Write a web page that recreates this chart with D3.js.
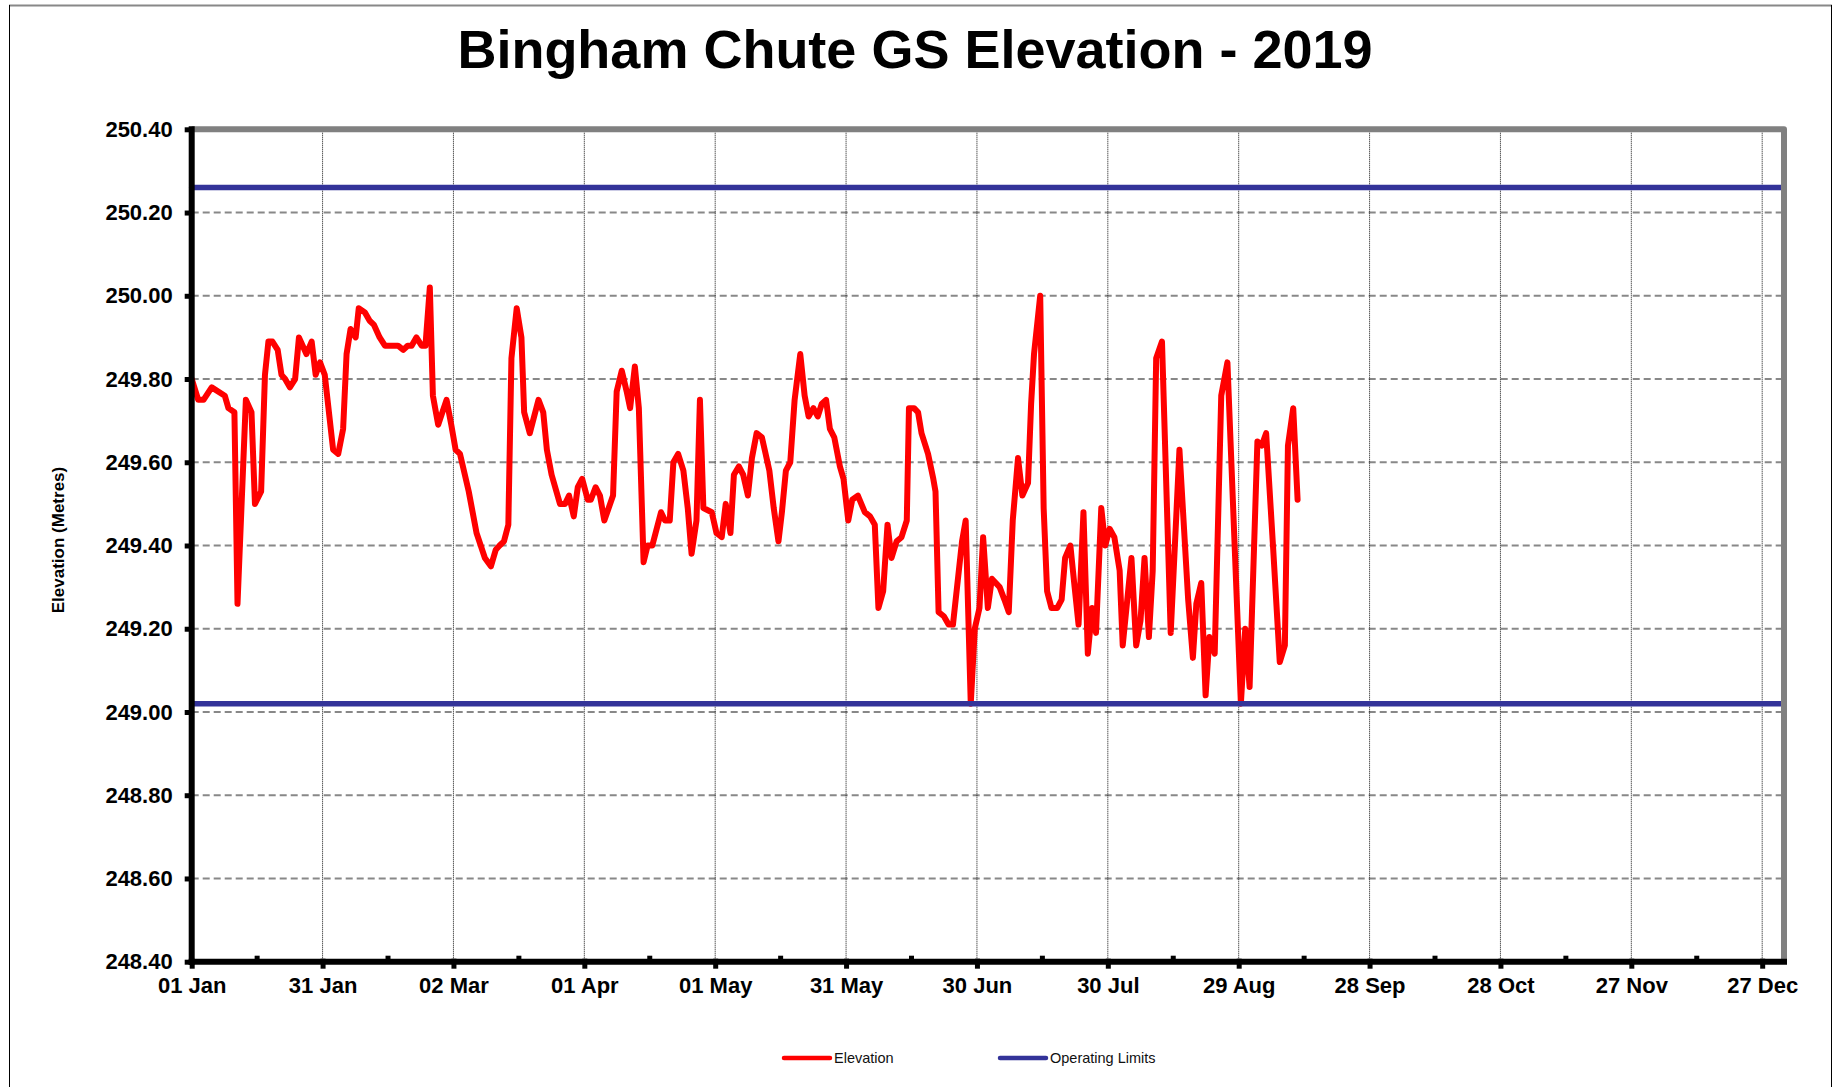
<!DOCTYPE html>
<html>
<head>
<meta charset="utf-8">
<script src="https://cdn.jsdelivr.net/npm/d3@7/dist/d3.min.js"></script>
<style>
  body { margin: 0; background: #fff; }
  svg { display: block; font-family: "Liberation Sans", Arial, sans-serif; }
</style>
</head>
<body>
<div id="chart"></div>
<script>
const title = "Bingham Chute GS Elevation - 2019";
const yLabel = "Elevation (Metres)";

// day of year (0 = 01 Jan 2019) of each reading
const dayOfYear = [
  0, 1.5, 2.7, 4.6, 7.6, 8.4, 9.8, 10.5, 12.4, 13.7, 14.5, 15.9, 16.8, 17.6, 18.5, 19.7,
  20.6, 21.4, 22.5, 23.7, 24.6, 26.3, 27.5, 28.4, 29.4, 30.5, 32.4, 33.6, 34.7, 35.5, 36.4,
  37.6, 38.3, 39.7, 40.8, 41.8, 43.1, 44.3, 47.3, 48.5, 49.5, 50.4, 51.5, 52.7, 53.6, 54.6,
  55.3, 56.5, 58.4, 59.5, 60.5, 61.5, 63.5, 65.3, 67.2, 68.6, 69.7, 70.6, 71.6, 72.6, 73.3,
  74.5, 75.6, 76.2, 77.5, 79.5, 80.6, 81.4, 82.5, 84.4, 85.6, 86.5, 87.6, 88.5, 89.5, 90.8,
  91.5, 92.6, 93.6, 94.6, 96.6, 97.4, 98.6, 99.7, 100.5, 101.6, 102.5, 103.6, 104.5, 105.6,
  107.6, 108.5, 109.6, 110.4, 111.5, 112.7, 113.7, 114.6, 115.7, 116.5, 117.3, 119.2, 120.3,
  121.5, 122.4, 123.5, 124.3, 125.4, 126.4, 127.5, 128.4, 129.5, 130.7, 132.4, 133.4, 134.5,
  135.3, 136.2, 137.2, 138.2, 139.5, 140.5, 141.4, 142.5, 143.5, 144.4, 145.4, 146.3, 147.3,
  148.6, 149.4, 150.5, 151.4, 152.7, 154.3, 155.5, 156.6, 157.4, 158.5, 159.5, 160.4, 161.6,
  162.7, 163.9, 164.4, 165.6, 166.5, 167.3, 168.8, 170.0, 170.5, 171.2, 172.4, 173.5, 174.5,
  176.6, 177.4, 178.6, 179.5, 180.6, 181.4, 182.5, 183.4, 185.2, 186.3, 187.3, 188.2, 189.4,
  190.4, 191.7, 192.4, 193.1, 194.5, 195.3, 196.1, 197.1, 198.4, 199.4, 200.2, 201.4, 202.3,
  203.3, 204.4, 205.4, 206.4, 207.3, 208.5, 209.4, 210.4, 211.5, 212.7, 213.4, 215.4, 216.5,
  217.5, 218.4, 219.4, 220.3, 221.1, 222.4, 224.4, 226.4, 228.4, 229.5, 230.3, 231.4, 232.4,
  233.3, 234.5, 236.0, 237.4, 240.5, 241.5, 242.5, 244.3, 245.3, 246.3, 247.9, 249.4, 250.6,
  251.3, 252.5, 253.5
];

const elevation = [
  249.80, 249.75, 249.75, 249.78, 249.76, 249.73, 249.72, 249.26, 249.75, 249.72, 249.50, 249.53, 249.81, 249.89, 249.89, 249.87,
  249.81, 249.80, 249.78, 249.80, 249.90, 249.86, 249.89, 249.81, 249.84, 249.81, 249.63, 249.62, 249.68, 249.86, 249.92,
  249.90, 249.97, 249.96, 249.94, 249.93, 249.90, 249.88, 249.88, 249.87, 249.88, 249.88, 249.90, 249.88, 249.88, 250.02,
  249.76, 249.69, 249.75, 249.69, 249.63, 249.62, 249.53, 249.43, 249.37, 249.35, 249.39, 249.40, 249.41, 249.45, 249.85,
  249.97, 249.90, 249.72, 249.67, 249.75, 249.72, 249.63, 249.57, 249.50, 249.50, 249.52, 249.47, 249.54, 249.56, 249.51,
  249.51, 249.54, 249.52, 249.46, 249.52, 249.77, 249.82, 249.77, 249.73, 249.83, 249.73, 249.36, 249.40, 249.40,
  249.48, 249.46, 249.46, 249.60, 249.62, 249.58, 249.49, 249.38, 249.46, 249.75, 249.49, 249.48, 249.43,
  249.42, 249.50, 249.43, 249.57, 249.59, 249.57, 249.52, 249.61, 249.67, 249.66, 249.58, 249.49, 249.41,
  249.48, 249.58, 249.60, 249.75, 249.86, 249.76, 249.71, 249.73, 249.71, 249.74, 249.75, 249.68, 249.66,
  249.59, 249.56, 249.46, 249.51, 249.52, 249.48, 249.47, 249.45, 249.25, 249.29, 249.45, 249.37, 249.41,
  249.42, 249.46, 249.73, 249.73, 249.72, 249.67, 249.62, 249.56, 249.53, 249.24, 249.23, 249.21, 249.21,
  249.41, 249.46, 249.02, 249.20, 249.25, 249.42, 249.25, 249.32, 249.30, 249.27, 249.24, 249.46, 249.61,
  249.52, 249.55, 249.74, 249.86, 250.00, 249.49, 249.29, 249.25, 249.25, 249.27, 249.37, 249.40, 249.31,
  249.21, 249.48, 249.14, 249.25, 249.19, 249.49, 249.40, 249.44, 249.42, 249.34, 249.16, 249.37, 249.16,
  249.22, 249.37, 249.18, 249.34, 249.85, 249.89, 249.19, 249.63, 249.27, 249.13, 249.26, 249.31, 249.04,
  249.18, 249.14, 249.76, 249.84, 249.02, 249.20, 249.06, 249.65, 249.64, 249.67, 249.39, 249.12, 249.16,
  249.64, 249.73, 249.51
];

const operatingLimits = [250.26, 249.02];

const xTickDates = [
  "2019-01-01", "2019-01-31", "2019-03-02", "2019-04-01", "2019-05-01", "2019-05-31", "2019-06-30",
  "2019-07-30", "2019-08-29", "2019-09-28", "2019-10-28", "2019-11-27", "2019-12-27"
];
const yTicks = [248.4, 248.6, 248.8, 249.0, 249.2, 249.4, 249.6, 249.8, 250.0, 250.2, 250.4];

const legendItems = [
  { label: "Elevation", color: "#ff0000" },
  { label: "Operating Limits", color: "#333399" }
];

const width = 1843;
const height = 1087;
const plot = { left: 191.7, right: 1784, top: 129.3, bottom: 961.7 };

const parse = d3.utcParse("%Y-%m-%d");
const start = parse("2019-01-01");
const end = parse("2020-01-01");
const toDate = (day) => d3.utcHour.offset(start, Math.round(day * 24));

const x = d3.scaleUtc().domain([start, end]).range([plot.left, plot.right]);
const y = d3.scaleLinear().domain([248.4, 250.4]).range([plot.bottom, plot.top]);

const series = dayOfYear.map((d, i) => ({ date: toDate(d), value: elevation[i] }));
const majorTicks = xTickDates.map(parse);
const minorTicks = majorTicks.map((d) => d3.utcDay.offset(d, 15)).filter((d) => d < end);

const svg = d3.select("#chart").append("svg").attr("width", width).attr("height", height);

// outer frame
svg.append("line").attr("x1", 9).attr("x2", 1832).attr("y1", 5.5).attr("y2", 5.5)
  .attr("stroke", "#888").attr("stroke-width", 2);
svg.append("line").attr("x1", 9.5).attr("x2", 9.5).attr("y1", 5).attr("y2", height)
  .attr("stroke", "#000").attr("stroke-width", 1);
svg.append("line").attr("x1", 1831.5).attr("x2", 1831.5).attr("y1", 5).attr("y2", height)
  .attr("stroke", "#000").attr("stroke-width", 1);

// title
svg.append("text")
  .attr("x", 915).attr("y", 68)
  .attr("text-anchor", "middle")
  .attr("font-size", 54).attr("font-weight", "bold")
  .text(title);

// grid
svg.append("g")
  .selectAll("line")
  .data(yTicks.filter((d) => d > 248.4 && d < 250.4))
  .join("line")
  .attr("x1", plot.left).attr("x2", plot.right)
  .attr("y1", (d) => y(d)).attr("y2", (d) => y(d))
  .attr("stroke", "#888").attr("stroke-width", 2).attr("stroke-dasharray", "7,4");

svg.append("g")
  .selectAll("line")
  .data(majorTicks.slice(1))
  .join("line")
  .attr("x1", (d) => x(d)).attr("x2", (d) => x(d))
  .attr("y1", plot.top).attr("y2", plot.bottom)
  .attr("stroke", "#111").attr("stroke-width", 1).attr("stroke-dasharray", "1,1");

// elevation series
const line = d3.line().x((d) => x(d.date)).y((d) => y(d.value));
svg.append("path")
  .datum(series)
  .attr("d", line)
  .attr("fill", "none")
  .attr("stroke", legendItems[0].color)
  .attr("stroke-width", 6)
  .attr("stroke-linejoin", "round")
  .attr("stroke-linecap", "round");

// operating limits
svg.append("g")
  .selectAll("line")
  .data(operatingLimits)
  .join("line")
  .attr("x1", x(start)).attr("x2", x(end))
  .attr("y1", (d) => y(d)).attr("y2", (d) => y(d))
  .attr("stroke", legendItems[1].color).attr("stroke-width", 5.5)
  .attr("stroke-linecap", "round");

// plot border: grey top/right, black left/bottom
svg.append("path")
  .attr("d", `M${plot.left},${plot.top}H${plot.right}V${plot.bottom}`)
  .attr("fill", "none").attr("stroke", "#808080").attr("stroke-width", 6)
  .attr("stroke-linejoin", "round");

const yAxis = svg.append("g")
  .attr("transform", `translate(${plot.left},0)`)
  .call(d3.axisLeft(y).tickValues(yTicks).tickFormat(d3.format(".2f")).tickSize(7).tickPadding(12));
yAxis.select(".domain").remove();
yAxis.selectAll(".tick line").attr("stroke", "#000").attr("stroke-width", 5);
yAxis.selectAll(".tick text")
  .attr("font-size", 22).attr("font-weight", "bold").attr("font-family", "Liberation Sans, Arial, sans-serif")
  .attr("fill", "#000");

const xAxis = svg.append("g")
  .attr("transform", `translate(0,${plot.bottom - 3})`)
  .call(d3.axisBottom(x).tickValues(majorTicks).tickFormat(d3.utcFormat("%d %b")).tickSize(10).tickPadding(9));
xAxis.select(".domain").remove();
xAxis.selectAll(".tick line").attr("stroke", "#000").attr("stroke-width", 5);
xAxis.selectAll(".tick text")
  .attr("font-size", 22).attr("font-weight", "bold").attr("font-family", "Liberation Sans, Arial, sans-serif")
  .attr("fill", "#000");

svg.append("g")
  .selectAll("line")
  .data(minorTicks)
  .join("line")
  .attr("x1", (d) => x(d)).attr("x2", (d) => x(d))
  .attr("y1", plot.bottom - 6).attr("y2", plot.bottom)
  .attr("stroke", "#000").attr("stroke-width", 5);

svg.append("line")
  .attr("x1", plot.left).attr("x2", plot.left)
  .attr("y1", plot.top - 3).attr("y2", plot.bottom + 3)
  .attr("stroke", "#000").attr("stroke-width", 6);
svg.append("line")
  .attr("x1", plot.left - 3).attr("x2", plot.right + 3)
  .attr("y1", plot.bottom).attr("y2", plot.bottom)
  .attr("stroke", "#000").attr("stroke-width", 6);

// y axis title
svg.append("text")
  .attr("transform", `translate(58,540) rotate(-90)`)
  .attr("text-anchor", "middle")
  .attr("dy", "0.35em")
  .attr("font-size", 17).attr("font-weight", "bold")
  .text(yLabel);

// legend
const legendX = [784, 1000];
const legend = svg.append("g")
  .selectAll("g")
  .data(legendItems)
  .join("g")
  .attr("transform", (d, i) => `translate(${legendX[i]},1058)`);
legend.append("line")
  .attr("x1", 0).attr("x2", 46)
  .attr("stroke", (d) => d.color).attr("stroke-width", 4.5).attr("stroke-linecap", "round");
legend.append("text")
  .attr("x", 50).attr("dy", "0.35em")
  .attr("font-size", 14.5).attr("fill", "#111")
  .text((d) => d.label);
</script>
</body>
</html>
